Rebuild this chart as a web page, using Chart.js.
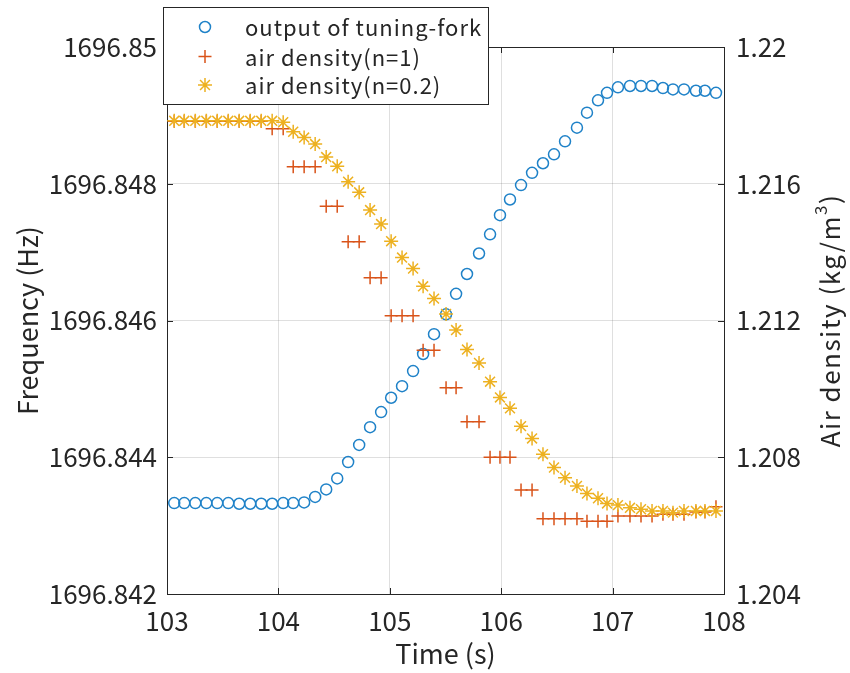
<!DOCTYPE html>
<html>
<head>
<meta charset="utf-8">
<script src="https://cdn.jsdelivr.net/npm/chart.js@4"></script>
<style>
  body { margin: 0; background: #fff; }
  #wrap { width: 850px; height: 673px; position: relative; }
</style>
</head>
<body>
<div id="wrap"><canvas id="chart"></canvas></div>
<script>
// sample times (s)
const times = [103.065, 103.155, 103.254, 103.353, 103.451, 103.550, 103.648, 103.747, 103.846, 103.944,
  104.043, 104.133, 104.231, 104.330, 104.429, 104.528, 104.626, 104.725, 104.823, 104.922,
  105.012, 105.110, 105.209, 105.299, 105.397, 105.505, 105.595, 105.693, 105.801, 105.900,
  105.989, 106.079, 106.178, 106.277, 106.375, 106.474, 106.573, 106.680, 106.770, 106.869,
  106.950, 107.048, 107.156, 107.255, 107.354, 107.452, 107.542, 107.641, 107.748, 107.829, 107.928];

// output of tuning-fork (Hz)
const forkFreq = [1696.84333, 1696.84333, 1696.84333, 1696.84333, 1696.84333, 1696.84333, 1696.84332, 1696.84332, 1696.84332, 1696.84332,
  1696.84333, 1696.84333, 1696.84334, 1696.84342, 1696.84353, 1696.84369, 1696.84393, 1696.84418, 1696.84444, 1696.84466,
  1696.84487, 1696.84504, 1696.84526, 1696.84551, 1696.84580, 1696.84609, 1696.84639, 1696.84668, 1696.84698, 1696.84726,
  1696.84754, 1696.84777, 1696.84798, 1696.84816, 1696.84830, 1696.84843, 1696.84862, 1696.84882, 1696.84904, 1696.84922,
  1696.84933, 1696.84941, 1696.84943, 1696.84943, 1696.84943, 1696.84940, 1696.84938, 1696.84938, 1696.84936, 1696.84936, 1696.84933];

// air density, n=1 (kg/m^3)
const densityN1 = [1.21783, 1.21783, 1.21783, 1.21783, 1.21783, 1.21783, 1.21783, 1.21783, 1.21783, 1.21761,
  1.21761, 1.21650, 1.21650, 1.21650, 1.21534, 1.21534, 1.21430, 1.21430, 1.21325, 1.21325,
  1.21214, 1.21214, 1.21214, 1.21113, 1.21113, 1.21003, 1.21003, 1.20904, 1.20904, 1.20800,
  1.20800, 1.20800, 1.20704, 1.20704, 1.20620, 1.20620, 1.20620, 1.20620, 1.20613, 1.20613,
  1.20613, 1.20628, 1.20628, 1.20628, 1.20628, 1.20633, 1.20633, 1.20633, 1.20640, 1.20640, 1.20655];

// air density, n=0.2 (kg/m^3)
const densityN02 = [1.21784, 1.21784, 1.21784, 1.21784, 1.21784, 1.21784, 1.21784, 1.21784, 1.21784, 1.21784,
  1.21780, 1.21752, 1.21735, 1.21716, 1.21678, 1.21651, 1.21606, 1.21575, 1.21523, 1.21482,
  1.21432, 1.21384, 1.21352, 1.21300, 1.21264, 1.21219, 1.21172, 1.21115, 1.21076, 1.21021,
  1.20975, 1.20943, 1.20891, 1.20855, 1.20809, 1.20770, 1.20740, 1.20716, 1.20694, 1.20680,
  1.20665, 1.20660, 1.20652, 1.20648, 1.20643, 1.20643, 1.20638, 1.20643, 1.20643, 1.20643, 1.20643];

const seriesNames = ['output of tuning-fork', 'air density(n=1)', 'air density(n=0.2)'];

const xTicks = [103, 104, 105, 106, 107, 108];
const freqTicks = [1696.842, 1696.844, 1696.846, 1696.848, 1696.85];
const freqTickLabels = ['1696.842', '1696.844', '1696.846', '1696.848', '1696.85'];
const densTicks = [1.204, 1.208, 1.212, 1.216, 1.22];
const densTickLabels = ['1.204', '1.208', '1.212', '1.216', '1.22'];

const FONT = '"Noto Sans CJK JP", "Noto Sans", sans-serif';
const INK = '#262626';
const GRID = 'rgba(38,38,38,0.15)';
const BLUE = '#1f82c8';
const RED = '#D95319';
const YELLOW = '#EDB120';

const toPoints = ys => times.map((t, i) => ({ x: t, y: ys[i] }));

// inner ticks, top border, legend box and right-hand title
const decorPlugin = {
  id: 'decor',
  afterDatasetsDraw(chart) {
    const { ctx, chartArea: a, scales } = chart;
    const len = 6;
    ctx.save();
    ctx.strokeStyle = INK;
    ctx.lineWidth = 1;
    ctx.beginPath();
    xTicks.forEach(v => {
      const px = Math.round(scales.x.getPixelForValue(v)) + 0.5;
      ctx.moveTo(px, a.bottom); ctx.lineTo(px, a.bottom - len);
      ctx.moveTo(px, a.top); ctx.lineTo(px, a.top + len);
    });
    freqTicks.forEach(v => {
      const py = Math.round(scales.y.getPixelForValue(v)) + 0.5;
      ctx.moveTo(a.left, py); ctx.lineTo(a.left + len, py);
    });
    densTicks.forEach(v => {
      const py = Math.round(scales.y1.getPixelForValue(v)) + 0.5;
      ctx.moveTo(a.right, py); ctx.lineTo(a.right - len, py);
    });
    ctx.moveTo(a.left, Math.round(a.top) + 0.5);
    ctx.lineTo(a.right, Math.round(a.top) + 0.5);
    ctx.stroke();
    ctx.restore();
  },
  afterDraw(chart) {
    const { ctx, chartArea: a } = chart;
    ctx.save();

    // legend
    const bx = 163.5, by = 7.5, bw = 325, bh = 97;
    ctx.fillStyle = '#fff';
    ctx.fillRect(bx, by, bw, bh);
    ctx.strokeStyle = INK;
    ctx.lineWidth = 1;
    ctx.strokeRect(bx, by, bw, bh);
    const rows = [27, 56.5, 85];
    const mx = 205;
    ctx.lineWidth = 1.5;
    // circle
    ctx.strokeStyle = BLUE;
    ctx.beginPath(); ctx.arc(mx, rows[0], 5.5, 0, Math.PI * 2); ctx.stroke();
    // plus
    ctx.strokeStyle = RED;
    ctx.beginPath();
    ctx.moveTo(mx - 6.5, rows[1]); ctx.lineTo(mx + 6.5, rows[1]);
    ctx.moveTo(mx, rows[1] - 6.5); ctx.lineTo(mx, rows[1] + 6.5);
    ctx.stroke();
    // asterisk
    ctx.strokeStyle = YELLOW;
    ctx.beginPath();
    for (let k = 0; k < 4; k++) {
      const ang = k * Math.PI / 4;
      const dx = Math.cos(ang) * 7, dy = Math.sin(ang) * 7;
      ctx.moveTo(mx - dx, rows[2] - dy); ctx.lineTo(mx + dx, rows[2] + dy);
    }
    ctx.stroke();
    ctx.fillStyle = INK;
    ctx.font = '22px ' + FONT;
    ctx.letterSpacing = '1px';
    ctx.textBaseline = 'middle';
    ctx.textAlign = 'left';
    seriesNames.forEach((s, i) => ctx.fillText(s, 245, rows[i] + 1));

    // right axis title with superscript
    ctx.letterSpacing = '1.5px';
    ctx.translate(830, (a.top + a.bottom) / 2);
    ctx.rotate(-Math.PI / 2);
    const mainFont = '26px ' + FONT, supFont = '17px ' + FONT;
    const t1 = 'Air density (kg/m', t2 = '3', t3 = ')';
    ctx.font = mainFont; const w1 = ctx.measureText(t1).width, w3 = ctx.measureText(t3).width;
    ctx.font = supFont; const w2 = ctx.measureText(t2).width;
    let sx = -(w1 + w2 + w3) / 2;
    ctx.font = mainFont; ctx.fillText(t1, sx, 0); sx += w1;
    ctx.font = supFont; ctx.fillText(t2, sx, -9); sx += w2;
    ctx.font = mainFont; ctx.fillText(t3, sx, 0);
    ctx.restore();
  }
};

new Chart(document.getElementById('chart'), {
  type: 'scatter',
  data: {
    datasets: [
      {
        label: seriesNames[0], data: toPoints(forkFreq), yAxisID: 'y', order: 3,
        pointStyle: 'circle', radius: 5.5, borderWidth: 1.5,
        borderColor: BLUE, backgroundColor: 'rgba(0,0,0,0)'
      },
      {
        label: seriesNames[1], data: toPoints(densityN1), yAxisID: 'y1', order: 2,
        pointStyle: 'cross', radius: 6.5, borderWidth: 1.5,
        borderColor: RED, backgroundColor: RED
      },
      {
        label: seriesNames[2], data: toPoints(densityN02), yAxisID: 'y1', order: 1,
        pointStyle: 'star', radius: 7, borderWidth: 1.5,
        borderColor: YELLOW, backgroundColor: YELLOW
      }
    ]
  },
  options: {
    responsive: true,
    maintainAspectRatio: false,
    animation: false,
    layout: { padding: { top: 47, left: 0, right: 0, bottom: 0 } },
    plugins: { legend: { display: false }, tooltip: { enabled: false } },
    scales: {
      x: {
        type: 'linear', min: 103, max: 108,
        afterBuildTicks: s => { s.ticks = xTicks.map(v => ({ value: v })); },
        afterFit: s => { s.height = 79; },
        ticks: { color: INK, font: { family: FONT, size: 26 }, padding: 12, maxRotation: 0 },
        grid: { color: GRID, drawTicks: false },
        border: { color: INK, width: 1 },
        title: { display: true, text: 'Time (s)', color: INK, font: { family: FONT, size: 27 }, padding: { top: 0, bottom: 3 } }
      },
      y: {
        type: 'linear', position: 'left', min: 1696.842, max: 1696.85,
        afterBuildTicks: s => { s.ticks = freqTicks.map(v => ({ value: v })); },
        afterFit: s => { s.width = 167; },
        ticks: { color: INK, font: { family: FONT, size: 26 }, padding: 10, callback: (v, i) => freqTickLabels[i] },
        grid: { color: GRID, drawTicks: false },
        border: { color: INK, width: 1 },
        title: { display: true, text: 'Frequency (Hz)', color: INK, font: { family: FONT, size: 27 }, padding: { top: 12, bottom: 0 } }
      },
      y1: {
        type: 'linear', position: 'right', min: 1.204, max: 1.22,
        afterBuildTicks: s => { s.ticks = densTicks.map(v => ({ value: v })); },
        afterFit: s => { s.width = 126; },
        ticks: { color: INK, font: { family: FONT, size: 26 }, padding: 12, callback: (v, i) => densTickLabels[i] },
        grid: { display: false, drawTicks: false },
        border: { color: INK, width: 1 }
      }
    }
  },
  plugins: [decorPlugin]
});
</script>
</body>
</html>
